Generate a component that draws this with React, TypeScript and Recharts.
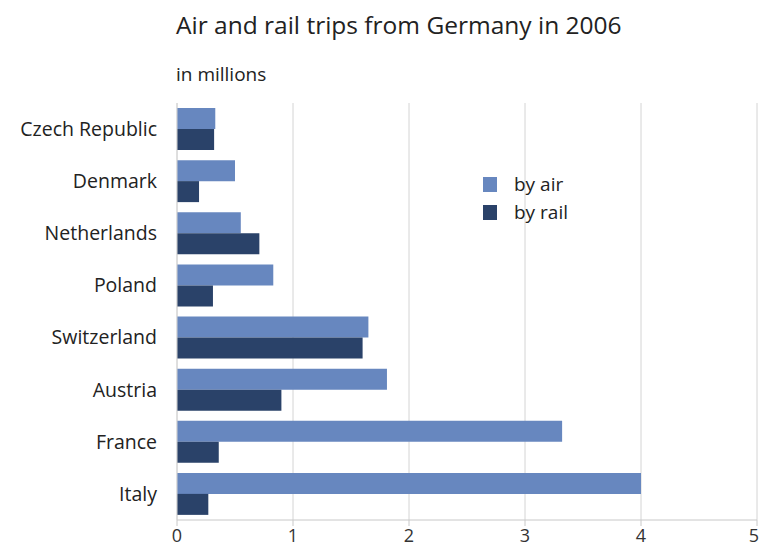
import React from 'react';
import { BarChart, Bar, XAxis, YAxis, CartesianGrid } from 'recharts';

const countries = ['Czech Republic', 'Denmark', 'Netherlands', 'Poland', 'Switzerland', 'Austria', 'France', 'Italy'];
const byAir = [0.33, 0.5, 0.55, 0.83, 1.65, 1.81, 3.32, 4.0];
const byRail = [0.32, 0.19, 0.71, 0.31, 1.6, 0.9, 0.36, 0.27];
const xTicks = [0, 1, 2, 3, 4, 5];

const data = countries.map((c, i) => ({ country: c, air: byAir[i], rail: byRail[i] }));

const font = '"Open Sans", sans-serif';
const airColor = '#6787bf';
const railColor = '#2a4269';

// last label would be cut at the page edge, so anchor it to its right side
function XTick(props: any) {
  const { x, y, payload } = props;
  const last = payload.value === xTicks[xTicks.length - 1];
  return (
    <text
      x={last ? x + 2 : x}
      y={y + 14}
      textAnchor={last ? 'end' : 'middle'}
      fill="#333"
      fontSize={18}
      fontFamily={font}
    >
      {payload.value}
    </text>
  );
}

function LegendBox() {
  const items = [
    { label: 'by air', color: airColor },
    { label: 'by rail', color: railColor },
  ];
  return (
    <div style={{ position: 'absolute', left: 483, top: 170, fontSize: 19, color: '#222' }}>
      {items.map((it) => (
        <div key={it.label} style={{ display: 'flex', alignItems: 'center', height: 28 }}>
          <span style={{ width: 14, height: 15, background: it.color, marginRight: 17 }} />
          {it.label}
        </div>
      ))}
    </div>
  );
}

export default function App() {
  return (
    <div style={{ position: 'absolute', left: 0, top: 0, width: 760, height: 550, background: '#fff', fontFamily: font }}>
      <div style={{ position: 'absolute', left: 176, top: 8, fontSize: 24.5, color: '#222', whiteSpace: 'nowrap' }}>
        Air and rail trips from Germany in 2006
      </div>
      <div style={{ position: 'absolute', left: 176, top: 61, fontSize: 19, color: '#222' }}>in millions</div>
      <BarChart
        width={760}
        height={550}
        data={data}
        layout="vertical"
        margin={{ top: 103, right: 3, left: 0, bottom: 0 }}
        barCategoryGap={5}
        barGap={0}
      >
        <CartesianGrid horizontal={false} stroke="#d4d4d4" />
        <XAxis
          type="number"
          domain={[0, 5]}
          ticks={xTicks}
          height={30}
          axisLine={{ stroke: '#c8c8c8' }}
          tickLine={{ stroke: '#c8c8c8' }}
          tickSize={6}
          tick={<XTick />}
          interval={0}
        />
        <YAxis
          type="category"
          dataKey="country"
          width={177}
          axisLine={{ stroke: '#d4d4d4' }}
          tickLine={false}
          tickMargin={14}
          tick={{ fill: '#222', fontSize: 19.5, fontFamily: font }}
        />
        <Bar dataKey="air" name="by air" fill={airColor} isAnimationActive={false} />
        <Bar dataKey="rail" name="by rail" fill={railColor} isAnimationActive={false} />
      </BarChart>
      <LegendBox />
    </div>
  );
}
